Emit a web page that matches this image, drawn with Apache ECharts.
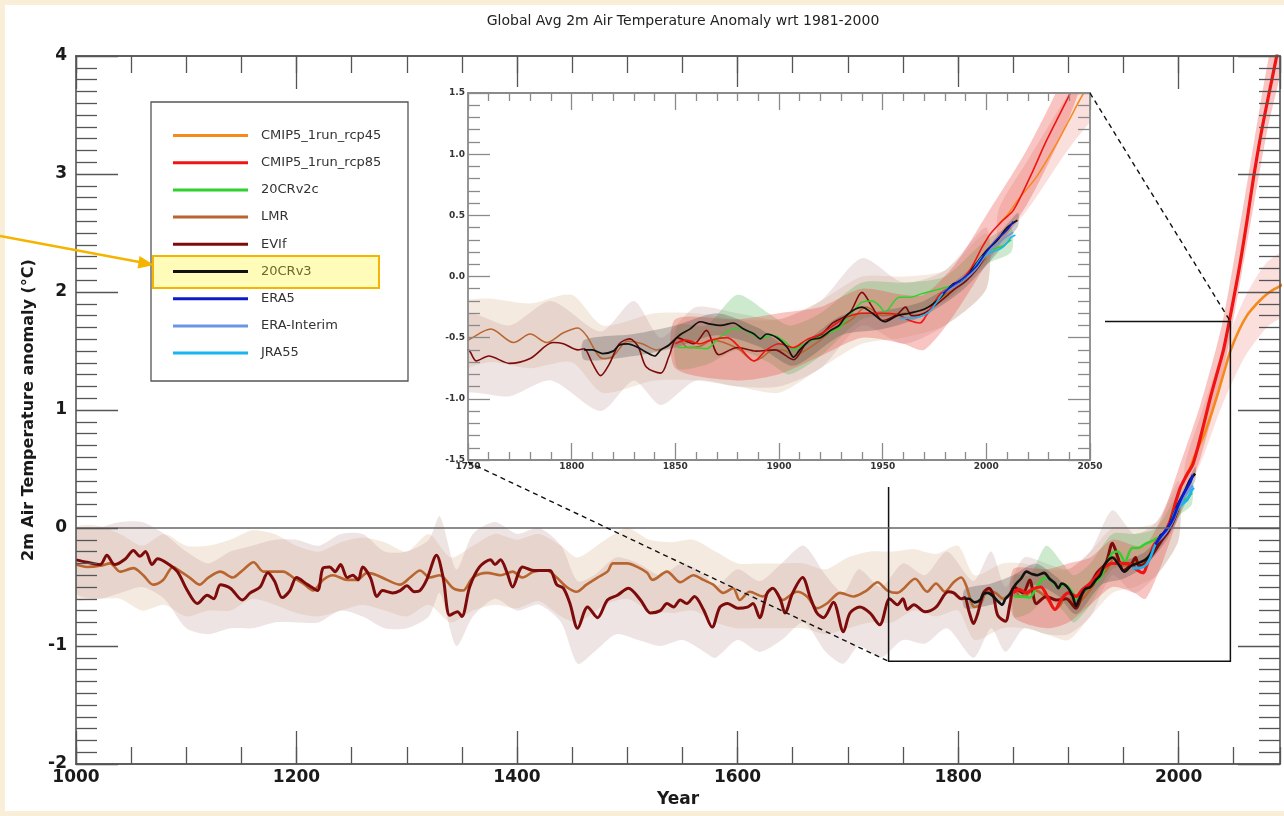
<!DOCTYPE html>
<html>
<head>
<meta charset="utf-8">
<script src="https://cdn.jsdelivr.net/npm/echarts@6/dist/echarts.min.js"></script>
<style>
  html, body { margin: 0; padding: 0; background: #f9efd8; }
  #paper { position: absolute; left: 5px; top: 5px; width: 1279px; height: 806px; background: #ffffff; }
  #chart { position: absolute; left: 0; top: 0; width: 1284px; height: 816px; }
</style>
</head>
<body>
<div id="paper"></div>
<div id="chart"></div>
<script>
// ---- series values: [year, anomaly °C] ----
const lmr = [
  [1000,-0.31],[1010,-0.33],[1022,-0.32],[1031,-0.30],[1040,-0.37],[1052,-0.34],[1061,-0.40],[1070,-0.48],
  [1079,-0.44],[1088,-0.33],[1095,-0.37],[1103,-0.42],[1112,-0.48],[1120,-0.42],[1131,-0.37],[1142,-0.42],
  [1151,-0.36],[1161,-0.29],[1170,-0.37],[1179,-0.37],[1188,-0.37],[1197,-0.42],[1206,-0.47],[1215,-0.53],
  [1224,-0.44],[1233,-0.40],[1246,-0.44],[1255,-0.44],[1264,-0.38],[1273,-0.40],[1282,-0.44],[1294,-0.48],
  [1303,-0.42],[1312,-0.36],[1321,-0.42],[1330,-0.40],[1342,-0.51],[1351,-0.53],[1360,-0.42],[1373,-0.38],
  [1385,-0.40],[1396,-0.37],[1405,-0.42],[1415,-0.37],[1427,-0.36],[1436,-0.42],[1445,-0.50],[1454,-0.54],
  [1463,-0.48],[1473,-0.42],[1482,-0.37],[1487,-0.30],[1500,-0.30],[1509,-0.33],[1518,-0.38],[1523,-0.44],
  [1536,-0.37],[1548,-0.46],[1560,-0.40],[1569,-0.44],[1578,-0.48],[1587,-0.55],[1596,-0.51],[1602,-0.61],
  [1611,-0.54],[1623,-0.58],[1632,-0.51],[1641,-0.61],[1654,-0.54],[1663,-0.58],[1672,-0.68],[1681,-0.64],
  [1693,-0.55],[1705,-0.58],[1717,-0.53],[1727,-0.46],[1736,-0.53],[1745,-0.55],[1750,-0.52],[1761,-0.43],
  [1772,-0.54],[1780,-0.47],[1788,-0.54],[1796,-0.46],[1803,-0.42],[1807,-0.48],[1815,-0.67],[1820,-0.65],
  [1827,-0.53],[1834,-0.55],[1841,-0.60],[1846,-0.57],[1851,-0.50],[1856,-0.58],[1862,-0.57],[1868,-0.52],
  [1875,-0.55],[1881,-0.60],[1888,-0.69],[1892,-0.66],[1897,-0.60],[1902,-0.60],[1907,-0.65],[1913,-0.60],
  [1920,-0.52],[1926,-0.44],[1935,-0.35],[1942,-0.25],[1950,-0.32],[1960,-0.30],[1970,-0.27],[1980,-0.15],
  [1990,-0.03],[2000,0.15]
];
const evif = [
  [1000,-0.27],[1010,-0.29],[1022,-0.31],[1028,-0.23],[1035,-0.31],[1045,-0.26],[1052,-0.19],[1058,-0.24],
  [1063,-0.20],[1069,-0.31],[1074,-0.26],[1083,-0.30],[1092,-0.37],[1101,-0.53],[1110,-0.64],[1119,-0.57],
  [1125,-0.60],[1131,-0.48],[1140,-0.51],[1151,-0.61],[1158,-0.55],[1167,-0.50],[1174,-0.38],[1180,-0.45],
  [1187,-0.59],[1194,-0.53],[1200,-0.42],[1210,-0.48],[1219,-0.53],[1224,-0.34],[1230,-0.33],[1235,-0.37],
  [1240,-0.31],[1246,-0.42],[1251,-0.40],[1256,-0.44],[1260,-0.33],[1267,-0.42],[1273,-0.58],[1278,-0.53],
  [1287,-0.55],[1294,-0.53],[1300,-0.49],[1307,-0.54],[1312,-0.53],[1318,-0.44],[1327,-0.23],[1333,-0.42],
  [1339,-0.74],[1346,-0.71],[1350,-0.75],[1357,-0.50],[1366,-0.33],[1376,-0.27],[1380,-0.31],[1385,-0.27],
  [1391,-0.38],[1396,-0.50],[1405,-0.33],[1415,-0.36],[1424,-0.36],[1430,-0.36],[1436,-0.48],[1442,-0.51],
  [1448,-0.64],[1455,-0.85],[1464,-0.67],[1473,-0.76],[1482,-0.61],[1491,-0.57],[1501,-0.51],[1512,-0.61],
  [1521,-0.72],[1530,-0.70],[1536,-0.64],[1542,-0.67],[1548,-0.61],[1554,-0.64],[1561,-0.58],[1569,-0.69],
  [1577,-0.84],[1584,-0.67],[1591,-0.64],[1600,-0.68],[1609,-0.67],[1614,-0.64],[1620,-0.76],[1627,-0.55],
  [1632,-0.51],[1639,-0.61],[1643,-0.72],[1650,-0.55],[1659,-0.42],[1666,-0.59],[1672,-0.72],[1678,-0.76],
  [1687,-0.63],[1696,-0.88],[1702,-0.72],[1711,-0.67],[1720,-0.72],[1729,-0.82],[1738,-0.60],[1745,-0.65],
  [1750,-0.60],[1754,-0.69],[1760,-0.65],[1770,-0.71],[1780,-0.67],[1791,-0.54],[1796,-0.55],[1803,-0.60],
  [1806,-0.59],[1810,-0.71],[1814,-0.81],[1818,-0.72],[1823,-0.55],[1828,-0.51],[1832,-0.57],[1836,-0.74],
  [1843,-0.79],[1847,-0.65],[1851,-0.50],[1859,-0.55],[1865,-0.44],[1871,-0.64],[1880,-0.58],[1889,-0.61],
  [1898,-0.60],[1907,-0.68],[1913,-0.55],[1920,-0.48],[1926,-0.38],[1934,-0.30],[1940,-0.13],[1945,-0.25],
  [1950,-0.36],[1957,-0.31],[1961,-0.25],[1964,-0.32],[1970,-0.30],[1978,-0.20],[1985,-0.10],[1990,-0.04],
  [1995,0.05],[2000,0.18]
];
const cr20v3 = [
  [1806,-0.60],[1810,-0.60],[1815,-0.63],[1820,-0.61],[1823,-0.56],[1827,-0.55],[1832,-0.58],[1836,-0.62],
  [1840,-0.65],[1843,-0.60],[1847,-0.56],[1852,-0.48],[1857,-0.43],[1862,-0.37],[1867,-0.39],[1872,-0.40],
  [1878,-0.38],[1883,-0.43],[1888,-0.47],[1891,-0.51],[1894,-0.47],[1899,-0.50],[1904,-0.58],[1907,-0.66],
  [1910,-0.60],[1915,-0.52],[1920,-0.50],[1925,-0.44],[1929,-0.40],[1933,-0.31],[1940,-0.25],[1945,-0.30],
  [1951,-0.37],[1957,-0.32],[1963,-0.30],[1971,-0.26],[1978,-0.17],[1984,-0.06],[1989,-0.03],[1994,0.08],
  [2000,0.21],[2005,0.29],[2010,0.40],[2015,0.46]
];
const cr20v2c = [
  [1851,-0.58],[1857,-0.58],[1865,-0.59],[1870,-0.52],[1876,-0.44],[1881,-0.42],[1886,-0.46],[1891,-0.50],
  [1897,-0.48],[1904,-0.55],[1907,-0.60],[1910,-0.57],[1916,-0.52],[1923,-0.47],[1929,-0.42],[1935,-0.30],
  [1940,-0.21],[1945,-0.20],[1949,-0.25],[1951,-0.29],[1958,-0.17],[1963,-0.17],[1969,-0.14],[1978,-0.10],
  [1986,-0.06],[1989,-0.03],[1995,0.07],[2002,0.21],[2008,0.25],[2012,0.30]
];
const rcp85 = [
  [1850,-0.55],[1855,-0.52],[1862,-0.55],[1867,-0.52],[1875,-0.50],[1881,-0.58],[1888,-0.69],[1894,-0.60],
  [1900,-0.55],[1907,-0.58],[1913,-0.52],[1920,-0.47],[1928,-0.38],[1933,-0.33],[1940,-0.30],[1949,-0.30],
  [1957,-0.31],[1963,-0.36],[1968,-0.38],[1971,-0.32],[1978,-0.14],[1986,-0.06],[1992,0.05],[1998,0.24],
  [2002,0.35],[2008,0.46],[2013,0.54],[2021,0.81],[2029,1.11],[2037,1.38],[2041,1.52],[2047,1.80],
  [2055,2.20],[2062,2.60],[2068,2.97],[2075,3.35],[2082,3.68],[2089,4.00],[2095,4.30],[2100,4.50]
];
const rcp45 = [
  [2006,0.43],[2010,0.50],[2015,0.62],[2024,0.81],[2034,1.09],[2040,1.28],[2047,1.50],[2055,1.68],
  [2062,1.80],[2068,1.87],[2074,1.93],[2080,1.98],[2086,2.02],[2092,2.05],[2100,2.10]
];
const era5 = [
  [1979,-0.14],[1984,-0.07],[1990,0.00],[1995,0.08],[2000,0.20],[2005,0.30],[2010,0.38],[2013,0.45]
];
const eraInterim = [
  [1979,-0.13],[1985,-0.08],[1990,-0.02],[1995,0.06],[2000,0.18],[2005,0.26],[2010,0.33],[2013,0.36]
];
const jra55 = [
  [1958,-0.34],[1963,-0.34],[1968,-0.33],[1973,-0.28],[1979,-0.14],[1986,-0.05],[1992,0.02],[1998,0.16],
  [2003,0.20],[2008,0.24],[2012,0.32],[2014,0.34]
];

// ---- uncertainty ranges: [year, lower, upper] ----
const lmrBand = [
  [1000,-0.60,0.00],[1020,-0.60,0.02],[1040,-0.60,-0.05],[1060,-0.70,-0.15],[1080,-0.65,-0.05],[1100,-0.75,-0.15],
  [1120,-0.70,-0.15],[1140,-0.70,-0.10],[1160,-0.60,-0.02],[1180,-0.65,-0.05],[1200,-0.72,-0.15],[1220,-0.75,-0.20],
  [1240,-0.70,-0.12],[1260,-0.65,-0.08],[1280,-0.70,-0.12],[1300,-0.75,-0.20],[1320,-0.65,-0.05],[1340,-0.80,-0.25],
  [1360,-0.70,-0.15],[1380,-0.65,-0.05],[1400,-0.68,-0.10],[1420,-0.62,-0.05],[1440,-0.75,-0.15],[1455,-0.80,-0.25],
  [1480,-0.65,-0.10],[1500,-0.60,0.00],[1520,-0.70,-0.10],[1540,-0.72,-0.12],[1560,-0.70,-0.10],[1580,-0.80,-0.20],
  [1600,-0.85,-0.30],[1620,-0.85,-0.30],[1640,-0.85,-0.30],[1660,-0.85,-0.30],[1680,-0.90,-0.35],[1700,-0.85,-0.25],
  [1720,-0.80,-0.20],[1740,-0.80,-0.20],[1760,-0.70,-0.18],[1780,-0.75,-0.22],[1800,-0.70,-0.15],[1815,-0.95,-0.40],
  [1840,-0.85,-0.30],[1860,-0.85,-0.30],[1880,-0.90,-0.35],[1900,-0.95,-0.35],[1920,-0.75,-0.20],[1940,-0.55,0.00],
  [1960,-0.50,0.00],[1980,-0.40,0.05],[2000,-0.10,0.35]
];
const evifBand = [
  [1000,-0.55,-0.02],[1020,-0.60,0.00],[1040,-0.55,0.05],[1060,-0.50,0.05],[1080,-0.60,-0.05],[1100,-0.85,-0.20],
  [1120,-0.90,-0.30],[1140,-0.85,-0.20],[1160,-0.85,-0.15],[1180,-0.80,-0.10],[1200,-0.80,-0.10],[1220,-0.80,-0.15],
  [1240,-0.70,-0.05],[1260,-0.75,-0.05],[1280,-0.85,-0.20],[1300,-0.85,-0.20],[1320,-0.75,-0.10],[1330,-0.55,0.10],
  [1345,-1.00,-0.35],[1360,-0.75,-0.05],[1380,-0.60,0.05],[1400,-0.70,-0.05],[1420,-0.65,0.00],[1440,-0.80,-0.15],
  [1455,-1.15,-0.45],[1470,-1.05,-0.40],[1490,-0.90,-0.25],[1510,-0.95,-0.30],[1530,-1.00,-0.40],[1550,-0.95,-0.30],
  [1570,-1.05,-0.40],[1580,-1.10,-0.50],[1600,-0.95,-0.35],[1620,-1.05,-0.45],[1640,-0.95,-0.30],[1660,-0.80,-0.15],
  [1680,-1.05,-0.40],[1696,-1.15,-0.55],[1710,-1.00,-0.35],[1730,-1.10,-0.50],[1750,-0.95,-0.30],[1770,-0.98,-0.40],
  [1790,-0.85,-0.20],[1814,-1.10,-0.45],[1830,-0.85,-0.20],[1843,-1.05,-0.50],[1860,-0.85,-0.25],[1880,-0.90,-0.30],
  [1900,-0.90,-0.35],[1920,-0.75,-0.20],[1940,-0.40,0.15],[1960,-0.55,-0.05],[1980,-0.40,0.05],[2000,-0.10,0.40]
];
const cr20v3Band = [
  [1806,-0.68,-0.52],[1830,-0.65,-0.47],[1850,-0.58,-0.40],[1870,-0.48,-0.30],[1890,-0.57,-0.42],[1907,-0.73,-0.58],
  [1930,-0.48,-0.32],[1950,-0.43,-0.28],[1970,-0.32,-0.20],[1990,-0.09,0.03],[2015,0.40,0.52]
];
const cr20v2cBand = [
  [1851,-0.75,-0.40],[1865,-0.72,-0.40],[1880,-0.60,-0.15],[1895,-0.70,-0.30],[1905,-0.80,-0.40],[1920,-0.65,-0.30],
  [1940,-0.35,-0.05],[1960,-0.30,-0.05],[1980,-0.20,0.00],[2000,0.10,0.30],[2012,0.20,0.40]
];
const rcp85Band = [
  [1850,-0.75,-0.35],[1880,-0.85,-0.35],[1900,-0.80,-0.30],[1920,-0.65,-0.25],[1940,-0.50,-0.10],[1960,-0.55,-0.15],
  [1970,-0.60,-0.15],[1985,-0.30,0.10],[2000,0.10,0.50],[2020,0.60,1.05],[2040,1.30,1.75],[2060,2.30,2.80],
  [2080,3.35,3.90],[2100,4.20,4.80]
];
const rcp45Band = [
  [2006,0.30,0.55],[2020,0.55,0.95],[2040,1.05,1.50],[2060,1.45,1.95],[2080,1.70,2.25],[2100,1.85,2.35]
];

// ---- legend and axis text ----
const legendNames = ['CMIP5_1run_rcp45','CMIP5_1run_rcp85','20CRv2c','LMR','EVIf','20CRv3','ERA5','ERA-Interim','JRA55'];
const titleText = 'Global Avg 2m Air Temperature Anomaly wrt 1981-2000';
const yTitle = '2m Air Temperature anomaly (°C)';
const xTitle = 'Year';
const zoomBox = [1737, -1.13, 2047, 1.75];

// drawing order, bottom to top
const lines = [
  { name: 'LMR', data: lmr, color: '#b8652f', w: 2.6, wi: 1.5 },
  { name: 'EVIf', data: evif, color: '#7d0b0b', w: 3, wi: 1.6 },
  { name: '20CRv2c', data: cr20v2c, color: '#2fd12f', w: 2.5, wi: 1.5 },
  { name: 'CMIP5_1run_rcp45', data: rcp45, color: '#f58a1a', w: 2.6, wi: 1.5 },
  { name: 'CMIP5_1run_rcp85', data: rcp85, color: '#f01414', w: 3.2, wi: 1.6 },
  { name: '20CRv3', data: cr20v3, color: '#111111', w: 2.6, wi: 1.7 },
  { name: 'JRA55', data: jra55, color: '#1ab4f0', w: 2.6, wi: 1.6 },
  { name: 'ERA-Interim', data: eraInterim, color: '#6b96e6', w: 2.4, wi: 1.4 },
  { name: 'ERA5', data: era5, color: '#0b1ccc', w: 2.8, wi: 1.6 }
];
const bands = [
  { data: lmrBand, color: '#e2c7aa', op: 0.38 },
  { data: evifBand, color: '#c39696', op: 0.26 },
  { data: cr20v2cBand, color: '#4caf50', op: 0.28 },
  { data: rcp45Band, color: '#f0a39a', op: 0.35 },
  { data: rcp85Band, color: '#e84a44', op: 0.32 },
  { data: cr20v3Band, color: '#444444', op: 0.28 }
];

const FONT = 'DejaVu Sans';
const chart = echarts.init(document.getElementById('chart'), null, { renderer: 'canvas' });

function bandItem(band, color, op) {
  return function (params, api) {
    if (params.dataIndex !== 0) return null;
    const upper = band.map(d => api.coord([d[0], d[2]]));
    const lower = band.map(d => api.coord([d[0], d[1]])).reverse();
    const cs = params.coordSys;
    return {
      type: 'polygon',
      shape: { points: upper.concat(lower), smooth: 0.25 },
      style: { fill: color, opacity: op },
      clipPath: { type: 'rect', shape: { x: cs.x, y: cs.y, width: cs.width, height: cs.height } }
    };
  };
}

const MAIN_INK = '#555';
const INSET_INK = '#8a8a8a';
function tickAxis(o, ink, tickLen, minorSplit, minorLen, lineW) {
  return Object.assign({
    type: 'value', splitLine: { show: false },
    axisLine: { show: true, onZero: false, lineStyle: { color: ink, width: lineW } },
    axisTick: { show: true, inside: true, length: tickLen, lineStyle: { color: ink, width: 1.3 } },
    minorTick: minorSplit ? { show: true, splitNumber: minorSplit, length: minorLen, lineStyle: { color: ink, width: 1.3 } } : { show: false },
    axisLabel: { show: false }
  }, o);
}

const mainLabel = { show: true, fontFamily: FONT, fontWeight: 'bold', fontSize: 17, color: '#1a1a1a',
  showMaxLabel: false, formatter: v => String(v) };
const insetLabel = { show: true, fontFamily: FONT, fontWeight: 'bold', fontSize: 9, color: '#333' };
const X_MIN = 1000, X_MAX = 2092;

const xAxes = [
  // main panel: long ticks every 200 years, short ticks every 50 years
  tickAxis({ gridIndex: 0, position: 'bottom', min: X_MIN, max: X_MAX, interval: 200, z: 5,
    axisLabel: Object.assign({ margin: 5, showMinLabel: true }, mainLabel),
    name: xTitle, nameLocation: 'middle', nameGap: 24,
    nameTextStyle: { fontFamily: FONT, fontWeight: 'bold', fontSize: 17, color: '#1a1a1a' } },
    MAIN_INK, 33, 0, 0, 1.6),
  tickAxis({ gridIndex: 0, position: 'bottom', min: X_MIN, max: X_MAX, interval: 50, z: 5 }, MAIN_INK, 17, 0, 0, 1.6),
  tickAxis({ gridIndex: 0, position: 'top', min: X_MIN, max: X_MAX, interval: 200, z: 5 }, MAIN_INK, 33, 0, 0, 1.6),
  tickAxis({ gridIndex: 0, position: 'top', min: X_MIN, max: X_MAX, interval: 50, z: 5 }, MAIN_INK, 17, 0, 0, 1.6),
  // inset panel
  tickAxis({ gridIndex: 1, position: 'bottom', min: 1750, max: 2050, interval: 50, z: 14,
    axisLabel: Object.assign({ margin: 2, formatter: v => String(v) }, insetLabel) },
    INSET_INK, 17, 5, 8, 1.8),
  tickAxis({ gridIndex: 1, position: 'top', min: 1750, max: 2050, interval: 50, z: 14 }, INSET_INK, 17, 5, 8, 1.8)
];
const yAxes = [
  tickAxis({ gridIndex: 0, position: 'left', min: -2, max: 4, interval: 1, z: 5,
    axisLabel: Object.assign({ margin: 9 }, mainLabel, { showMaxLabel: true }),
    name: yTitle, nameLocation: 'middle', nameGap: 36, nameRotate: 90,
    nameTextStyle: { fontFamily: FONT, fontWeight: 'bold', fontSize: 16, color: '#1a1a1a' } },
    MAIN_INK, 42, 10, 21, 1.6),
  tickAxis({ gridIndex: 0, position: 'right', min: -2, max: 4, interval: 1, z: 5 }, MAIN_INK, 42, 10, 21, 1.6),
  tickAxis({ gridIndex: 1, position: 'left', min: -1.5, max: 1.5, interval: 0.5, z: 14,
    axisLabel: Object.assign({ margin: 3, formatter: v => v.toFixed(1) }, insetLabel) },
    INSET_INK, 22, 5, 12, 1.8),
  tickAxis({ gridIndex: 1, position: 'right', min: -1.5, max: 1.5, interval: 0.5, z: 14 }, INSET_INK, 22, 5, 12, 1.8)
];

const series = [];
// main panel
bands.forEach(b => series.push({
  type: 'custom', xAxisIndex: 0, yAxisIndex: 0, z: 2, silent: true,
  renderItem: bandItem(b.data, b.color, b.op), data: b.data, encode: { x: 0, y: [1, 2] }
}));
lines.forEach((s, i) => {
  const item = {
    type: 'line', name: s.name, xAxisIndex: 0, yAxisIndex: 0, z: 3, data: s.data, color: s.color,
    showSymbol: false, smooth: 0.3, lineStyle: { width: s.w, color: s.color }, silent: true
  };
  if (i === 0) {
    item.markLine = { silent: true, symbol: 'none', label: { show: false },
      lineStyle: { color: '#666', width: 1.6, type: 'solid' }, data: [{ yAxis: 0 }] };
  }
  series.push(item);
});
series.push({
  type: 'custom', xAxisIndex: 0, yAxisIndex: 0, z: 4, silent: true,
  data: [zoomBox], encode: { x: [0, 2], y: [1, 3] },
  renderItem: (params, api) => {
    const a = api.coord([api.value(0), api.value(1)]);
    const b = api.coord([api.value(2), api.value(3)]);
    return { type: 'rect', shape: { x: a[0], y: b[1], width: b[0] - a[0], height: a[1] - b[1] },
      style: { fill: 'none', stroke: '#111', lineWidth: 1.5 } };
  }
});
// inset panel
bands.forEach(b => series.push({
  type: 'custom', xAxisIndex: 4, yAxisIndex: 2, z: 12, silent: true,
  renderItem: bandItem(b.data, b.color, b.op), data: b.data, encode: { x: 0, y: [1, 2] }
}));
lines.forEach((s, i) => {
  const item = {
    type: 'line', name: s.name, xAxisIndex: 4, yAxisIndex: 2, z: 13, data: s.data, color: s.color,
    showSymbol: false, smooth: 0.3, lineStyle: { width: s.wi, color: s.color }, silent: true
  };
  if (i === 0) {
    item.markLine = { silent: true, symbol: 'none', label: { show: false },
      lineStyle: { color: '#555', width: 1.1, type: 'solid' }, data: [{ yAxis: 0 }] };
  }
  series.push(item);
});

chart.setOption({
  animation: false,
  title: { text: titleText, left: 678, textAlign: 'center', top: 9,
    textStyle: { fontFamily: FONT, fontWeight: 'normal', fontSize: 14, color: '#222' } },
  grid: [
    { left: 76, top: 56, width: 1204, height: 708, outerBoundsMode: 'none', containLabel: false },
    { left: 468, top: 93, width: 622, height: 367, outerBoundsMode: 'none', containLabel: false }
  ],
  xAxis: xAxes,
  yAxis: yAxes,
  legend: {
    orient: 'vertical', left: 168, top: 124, z: 8, selectedMode: false,
    icon: 'rect', itemWidth: 75, itemHeight: 3, itemGap: 14.2,
    textStyle: { fontFamily: FONT, fontSize: 13, color: '#333', padding: [0, 0, 0, 8] },
    data: legendNames.map(n => n === '20CRv3'
      ? { name: n, textStyle: { color: '#6b6b25' } }
      : { name: n })
  },
  series: series
});

// overlays: inset backdrop, zoom guides, legend frame, highlight and arrow
const c0 = chart.convertToPixel({ gridIndex: 0 }, [zoomBox[0], zoomBox[1]]);
const c1 = chart.convertToPixel({ gridIndex: 0 }, [zoomBox[2], zoomBox[3]]);
const i0 = chart.convertToPixel({ gridIndex: 1 }, [1750, -1.5]);
const i1 = chart.convertToPixel({ gridIndex: 1 }, [2050, 1.5]);
const dash = { stroke: '#111', lineWidth: 1.4, lineDash: [5, 4] };

chart.setOption({
  graphic: { elements: [
    { id: 'insetBg', type: 'rect', z: 10, silent: true,
      shape: { x: 438, y: 87, width: 667, height: 400 }, style: { fill: '#ffffff' } },
    { id: 'guideLow', type: 'line', z: 20, silent: true,
      shape: { x1: i0[0], y1: i0[1] + 2, x2: c0[0], y2: c0[1] }, style: dash },
    { id: 'guideHigh', type: 'line', z: 20, silent: true,
      shape: { x1: i1[0], y1: i1[1], x2: c1[0], y2: c1[1] }, style: dash },
    { id: 'legendBox', type: 'rect', z: 6, silent: true,
      shape: { x: 151, y: 102, width: 257, height: 279 },
      style: { fill: '#ffffff', stroke: '#555', lineWidth: 1.3 } },
    { id: 'hilite', type: 'rect', z: 7, silent: true,
      shape: { x: 153, y: 256, width: 226, height: 32 },
      style: { fill: '#fffbb8', stroke: '#f5b400', lineWidth: 2 } },
    { id: 'arrowShaft', type: 'line', z: 9, silent: true,
      shape: { x1: 0, y1: 236, x2: 142, y2: 262.5 },
      style: { stroke: '#f5b400', lineWidth: 2.6 } },
    { id: 'arrowHead', type: 'polygon', z: 9, silent: true,
      shape: { points: [[154, 265], [139.5, 256], [137.5, 268.5]] },
      style: { fill: '#f5b400' } }
  ] }
});
</script>
</body>
</html>
